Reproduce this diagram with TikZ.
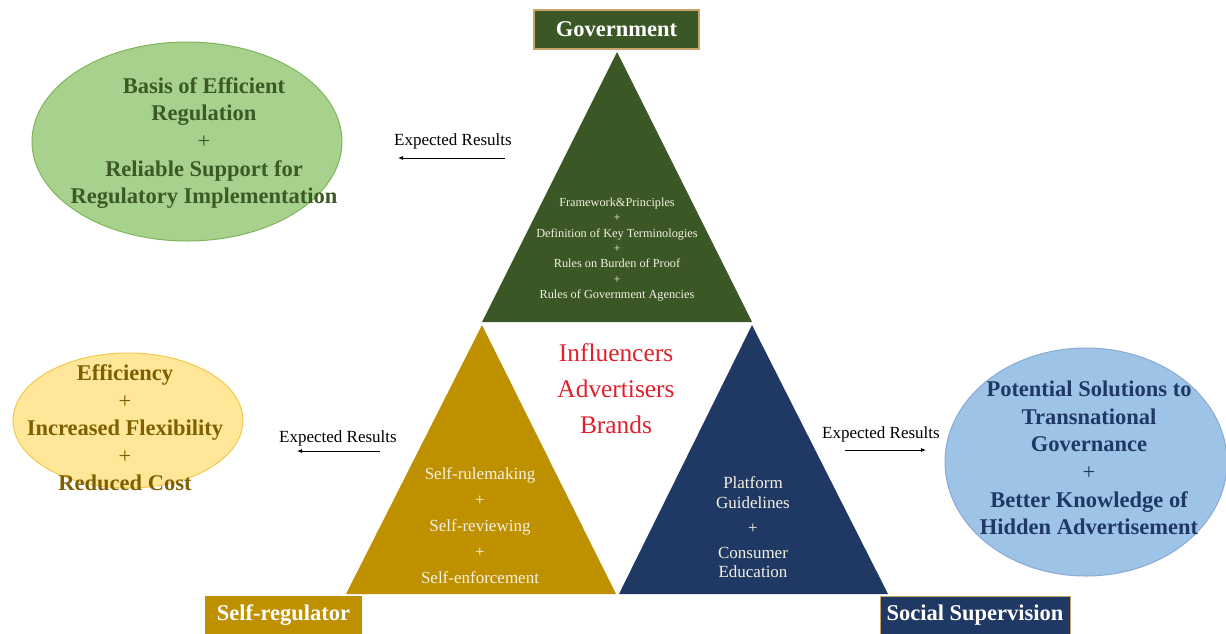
\documentclass[tikz,border=0pt]{standalone}
\usepackage{fontspec}
\setmainfont{Liberation Serif}
\usetikzlibrary{shapes.geometric,arrows.meta}
\definecolor{govgreen}{HTML}{3A5725}
\definecolor{gold}{HTML}{BF9000}
\definecolor{navy}{HTML}{203864}
\definecolor{tanborder}{HTML}{C8A468}
\definecolor{redtxt}{HTML}{E0202B}
\definecolor{ellgreen}{HTML}{A9D18E}
\definecolor{ellgreenb}{HTML}{7DB65A}
\definecolor{ellgreent}{HTML}{3B5A24}
\definecolor{ellyellow}{HTML}{FFE699}
\definecolor{ellyellowb}{HTML}{F2C94C}
\definecolor{ellyellowt}{HTML}{7F6000}
\definecolor{ellblue}{HTML}{9DC3E6}
\definecolor{ellblueb}{HTML}{8AAAD6}
\definecolor{ellbluet}{HTML}{1F3864}
\definecolor{tritxt}{HTML}{F4F1E2}
\tikzset{
  bigbold/.style={font=\fontsize{22.5}{27.6}\selectfont\bfseries, align=center, inner sep=0pt},
  rolebox/.style={font=\fontsize{22.5}{27}\selectfont\bfseries, text=white, inner sep=0pt, anchor=center},
  expres/.style={font=\fontsize{17}{20}\selectfont, inner sep=0pt},
  resarrow/.style={-{Latex[length=5pt,width=4pt]}, line width=0.8pt},
  tritext/.style={text=tritxt, align=center, inner sep=0pt},
  resell/.style={ellipse, line width=1pt, inner sep=0pt},
}
\begin{document}
\begin{tikzpicture}[x=1pt,y=-1pt]
\useasboundingbox (0,0) rectangle (1226,633);
% triangles
\fill[govgreen] (617,52) -- (752,322) -- (482,322) -- cycle;
\fill[gold] (482,325) -- (616,594) -- (346,594) -- cycle;
\fill[navy] (752,325) -- (888,594) -- (619,594) -- cycle;
% role boxes
\node[rolebox, fill=govgreen, draw=tanborder, line width=1.2pt, minimum width=165pt, minimum height=39pt] (gov) at (616.5,29.5) {Government};
\node[rolebox, fill=gold, minimum width=157pt, minimum height=38pt] (selfreg) at (283.5,615) {Self-regulator};
\node[rolebox, fill=navy, draw=tanborder, line width=1pt, minimum width=190pt, minimum height=38pt] (social) at (975,615) {Social Supervision};
% triangle texts
\node[tritext, font=\fontsize{12.3}{15.4}\selectfont] (govtxt) at (617,249.5) {Framework\&Principles\\+\\Definition of Key Terminologies\\+\\Rules on Burden of Proof\\+\\Rules of Government Agencies};
\node[tritext, font=\fontsize{17}{26}\selectfont] (selftxt) at (480,526) {Self-rulemaking\\+\\Self-reviewing\\+\\Self-enforcement};
\node[tritext, font=\fontsize{17}{19.5}\selectfont] (platxt) at (753,527.5) {Platform\\Guidelines\\[5.5pt]+\\[5.5pt]Consumer\\Education};
% centre red text
\node[text=redtxt, align=center, inner sep=0pt, font=\fontsize{25.4}{36}\selectfont] (actors) at (616,389) {Influencers\\Advertisers\\Brands};
% ellipses
\node[resell, fill=ellgreen, draw=ellgreenb, minimum width=310pt, minimum height=199pt] (ellg) at (187,141.5) {};
\node[bigbold, text=ellgreent] (ellgtxt) at (204,143) {Basis of Efficient\\Regulation\\{\mdseries +}\\Reliable Support for\\Regulatory Implementation};
\node[resell, fill=ellyellow, draw=ellyellowb, minimum width=230pt, minimum height=135pt] (elly) at (128,420.5) {};
\node[bigbold, text=ellyellowt] (ellytxt) at (125,428) {Efficiency\\{\mdseries +}\\Increased Flexibility\\{\mdseries +}\\Reduced Cost};
\node[resell, fill=ellblue, draw=ellblueb, minimum width=282pt, minimum height=228pt] (ellb) at (1086,462) {};
\node[bigbold, text=ellbluet] (ellbtxt) at (1089,458) {Potential Solutions to\\Transnational\\Governance\\{\mdseries +}\\Better Knowledge of\\Hidden Advertisement};
% expected results
\node[expres] (er1) at (453,141) {Expected Results};
\coordinate (a1s) at (505,158); \coordinate (a1e) at (398,158);
\draw[resarrow] (a1s) -- (a1e);
\node[expres] (er2) at (338,438) {Expected Results};
\coordinate (a2s) at (380,451); \coordinate (a2e) at (297,451);
\draw[resarrow] (a2s) -- (a2e);
\node[expres] (er3) at (881,434) {Expected Results};
\coordinate (a3s) at (845,450); \coordinate (a3e) at (926,450);
\draw[resarrow] (a3s) -- (a3e);
\end{tikzpicture}
\end{document}
